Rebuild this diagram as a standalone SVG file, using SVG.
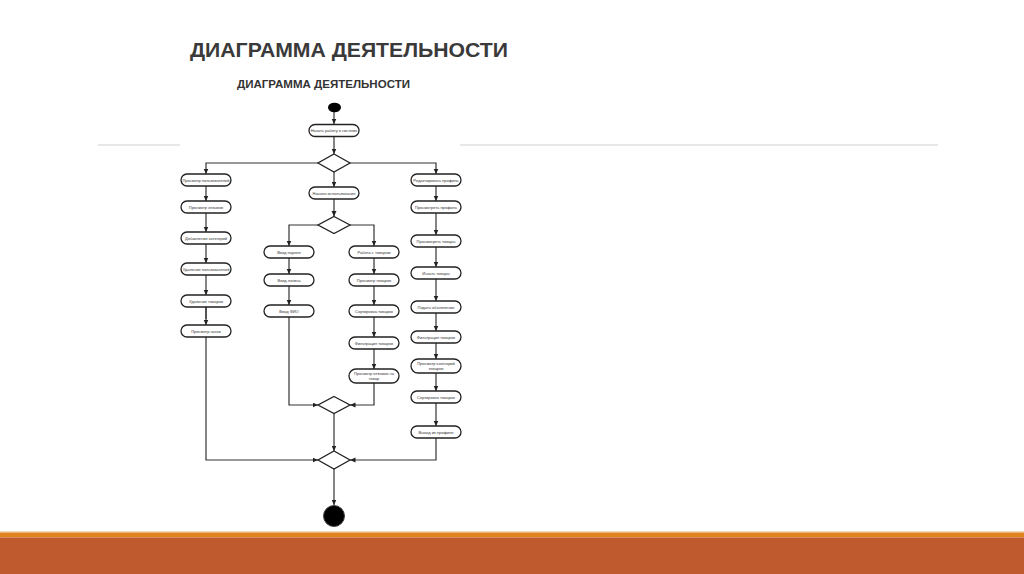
<svg xmlns="http://www.w3.org/2000/svg" width="1024" height="574" viewBox="0 0 1024 574">
<defs>
<marker id="ah" markerUnits="userSpaceOnUse" markerWidth="6" markerHeight="6" refX="5.5" refY="2.5" orient="auto">
<path d="M0,0 L5.5,2.5 L0,5 z" fill="#222"/>
</marker>
<style>
.nd{fill:#fff;stroke:#222;stroke-width:1.3}
.dm{fill:#fff;stroke:#222;stroke-width:1.3}
.tx{font-family:"Liberation Sans",Arial,sans-serif;font-size:4px;fill:#333;text-anchor:middle}
.cn{fill:none;stroke:#333;stroke-width:1.2}
.ca{fill:none;stroke:#333;stroke-width:1.2;marker-end:url(#ah)}
</style>
</defs>
<rect width="1024" height="574" fill="#fff"/>
<text x="190" y="57" font-family="'Liberation Sans',Arial,sans-serif" font-weight="bold" font-size="20" fill="#3a3a3a" textLength="318" lengthAdjust="spacingAndGlyphs">ДИАГРАММА ДЕЯТЕЛЬНОСТИ</text>
<text x="237" y="88" font-family="'Liberation Sans',Arial,sans-serif" font-weight="bold" font-size="11" fill="#333" textLength="173" lengthAdjust="spacingAndGlyphs">ДИАГРАММА ДЕЯТЕЛЬНОСТИ</text>
<line x1="98" y1="145" x2="180" y2="145" stroke="#cfcfcf" stroke-width="1"/>
<line x1="460" y1="145" x2="938" y2="145" stroke="#cfcfcf" stroke-width="1"/>
<rect x="0" y="531" width="1024" height="1.5" fill="#f3d9b8"/>
<rect x="0" y="532.5" width="1024" height="5" fill="#e0821e"/>
<rect x="0" y="537.5" width="1024" height="36.5" fill="#be5a2e"/>

<g id="connectors">
<path class="ca" d="M334,112 V124"/>
<path class="ca" d="M334,137 V154"/>
<path class="ca" d="M318,163 H206 V174"/>
<path class="ca" d="M350,163 H436 V174"/>
<path class="ca" d="M334,172 V187"/>
<path class="ca" d="M206,186 V201"/>
<path class="ca" d="M206,213 V232"/>
<path class="ca" d="M206,244 V263"/>
<path class="ca" d="M206,275 V295"/>
<path class="cn" d="M206,307 V319" stroke="#999" stroke-width="0.8"/>
<path class="ca" d="M206,307 V325" stroke-width="0.8"/>
<path class="ca" d="M206,337 V460 H318"/>
<path class="ca" d="M334,199 V216.5"/>
<path class="ca" d="M318,225 H289 V246"/>
<path class="ca" d="M350,225 H374 V246"/>
<path class="ca" d="M289,258 V274"/>
<path class="ca" d="M289,286 V305"/>
<path class="ca" d="M289,317 V405 H318"/>
<path class="ca" d="M374,258 V274"/>
<path class="ca" d="M374,286 V305"/>
<path class="ca" d="M374,317 V337"/>
<path class="ca" d="M374,349 V369"/>
<path class="ca" d="M374,383 V405 H350"/>
<path class="ca" d="M334,413.5 V451"/>
<path class="ca" d="M436,186 V201"/>
<path class="ca" d="M436,213 V235"/>
<path class="ca" d="M436,247 V267"/>
<path class="ca" d="M436,279 V301"/>
<path class="ca" d="M436,313 V331"/>
<path class="ca" d="M436,343 V359"/>
<path class="ca" d="M436,373 V391"/>
<path class="ca" d="M436,403 V426"/>
<path class="ca" d="M436,438 V460 H350"/>
<path class="ca" d="M334,469 V505"/>
</g>

<g id="start"><ellipse cx="334.5" cy="107.5" rx="6.5" ry="4.8" fill="#000"/></g>
<g id="end"><circle cx="334" cy="516" r="10.5" fill="#000" stroke="#444" stroke-width="1"/></g>

<g id="n0"><rect class="nd" x="309" y="124.5" width="50" height="12" rx="6"/><text class="tx" x="334" y="132">Начать работу в системе</text></g>

<g id="d1"><polygon class="dm" points="334,154 350,163 334,172 318,163"/></g>
<g id="d2"><polygon class="dm" points="334,216.5 350,225 334,233.5 318,225"/></g>
<g id="d3"><polygon class="dm" points="334,396.5 350,405 334,413.5 318,405"/></g>
<g id="d4"><polygon class="dm" points="334,451 350,460 334,469 318,460"/></g>

<g id="L1"><rect class="nd" x="181" y="174" width="50" height="12" rx="6"/><text class="tx" x="206" y="181.5">Просмотр пользователей</text></g>
<g id="L2"><rect class="nd" x="181" y="201" width="50" height="12" rx="6"/><text class="tx" x="206" y="208.5">Просмотр отзывов</text></g>
<g id="L3"><rect class="nd" x="181" y="232" width="50" height="12" rx="6"/><text class="tx" x="206" y="239.5">Добавление категорий</text></g>
<g id="L4"><rect class="nd" x="181" y="263" width="50" height="12" rx="6"/><text class="tx" x="206" y="270.5">Удаление пользователей</text></g>
<g id="L5"><rect class="nd" x="181" y="295" width="50" height="12" rx="6"/><text class="tx" x="206" y="302.5">Удаление товаров</text></g>
<g id="L6"><rect class="nd" x="181" y="325" width="50" height="12" rx="6"/><text class="tx" x="206" y="332.5">Просмотр чатов</text></g>

<g id="M0"><rect class="nd" x="309" y="187" width="50" height="12" rx="6"/><text class="tx" x="334" y="194.5">Начало использования</text></g>

<g id="A1"><rect class="nd" x="264" y="246" width="50" height="12" rx="6"/><text class="tx" x="289" y="253.5">Ввод пароля</text></g>
<g id="A2"><rect class="nd" x="264" y="274" width="50" height="12" rx="6"/><text class="tx" x="289" y="281.5">Ввод логина</text></g>
<g id="A3"><rect class="nd" x="264" y="305" width="50" height="12" rx="6"/><text class="tx" x="289" y="312.5">Ввод ФИО</text></g>

<g id="B1"><rect class="nd" x="349" y="246" width="50" height="12" rx="6"/><text class="tx" x="374" y="253.5">Работа с товаром</text></g>
<g id="B2"><rect class="nd" x="349" y="274" width="50" height="12" rx="6"/><text class="tx" x="374" y="281.5">Просмотр товаров</text></g>
<g id="B3"><rect class="nd" x="349" y="305" width="50" height="12" rx="6"/><text class="tx" x="374" y="312.5">Сортировка товаров</text></g>
<g id="B4"><rect class="nd" x="349" y="337" width="50" height="12" rx="6"/><text class="tx" x="374" y="344.5">Фильтрация товаров</text></g>
<g id="B5"><rect class="nd" x="349" y="369" width="50" height="14" rx="7"/><text class="tx" x="374" y="375">Просмотр отзывов на</text><text class="tx" x="374" y="380">товар</text></g>

<g id="R1"><rect class="nd" x="411" y="174" width="50" height="12" rx="6"/><text class="tx" x="436" y="181.5">Редактировать профиль</text></g>
<g id="R2"><rect class="nd" x="411" y="201" width="50" height="12" rx="6"/><text class="tx" x="436" y="208.5">Просмотреть профиль</text></g>
<g id="R3"><rect class="nd" x="411" y="235" width="50" height="12" rx="6"/><text class="tx" x="436" y="242.5">Просмотреть товары</text></g>
<g id="R4"><rect class="nd" x="411" y="267" width="50" height="12" rx="6"/><text class="tx" x="436" y="274.5">Искать товары</text></g>
<g id="R5"><rect class="nd" x="411" y="301" width="50" height="12" rx="6"/><text class="tx" x="436" y="308.5">Подать объявление</text></g>
<g id="R6"><rect class="nd" x="411" y="331" width="50" height="12" rx="6"/><text class="tx" x="436" y="338.5">Фильтрация товаров</text></g>
<g id="R7"><rect class="nd" x="411" y="359" width="50" height="14" rx="7"/><text class="tx" x="436" y="365">Просмотр категорий</text><text class="tx" x="436" y="370">товаров</text></g>
<g id="R8"><rect class="nd" x="411" y="391" width="50" height="12" rx="6"/><text class="tx" x="436" y="398.5">Сортировка товаров</text></g>
<g id="R9"><rect class="nd" x="411" y="426" width="50" height="12" rx="6"/><text class="tx" x="436" y="433.5">Выход из профиля</text></g>
</svg>
